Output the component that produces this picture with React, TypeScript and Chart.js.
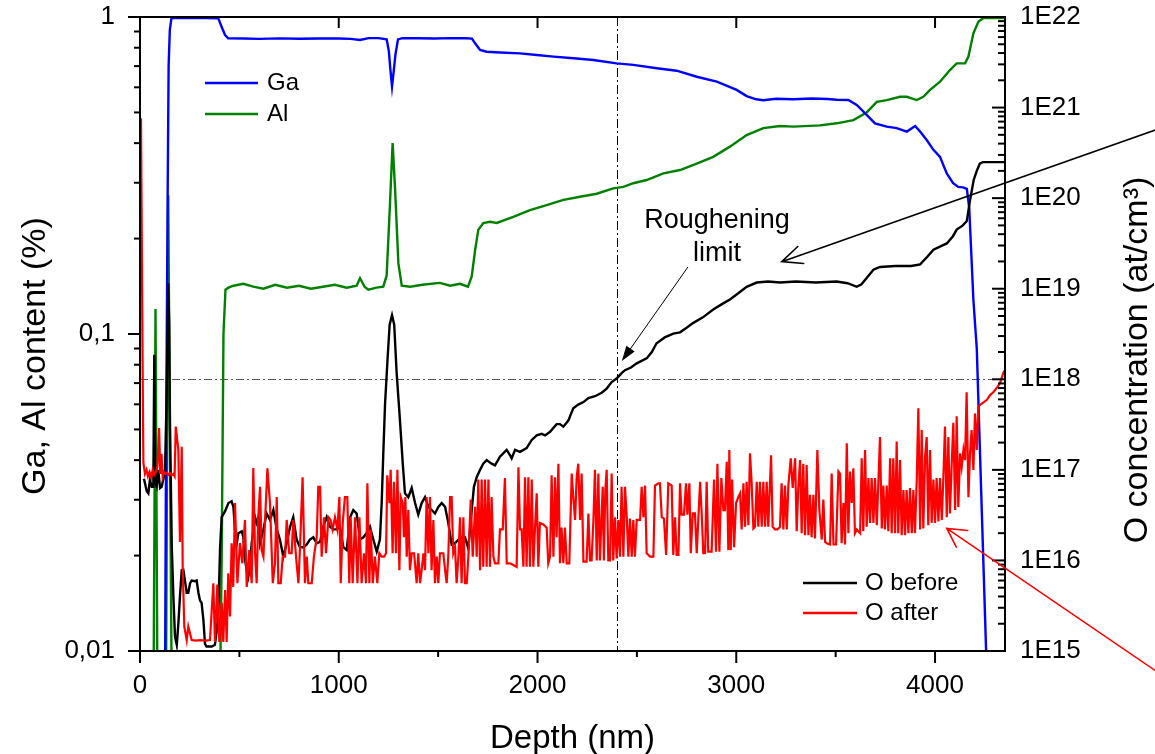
import React, { useEffect, useRef } from "react";
import { Chart, registerables } from "chart.js";

Chart.register(...registerables);

const FONT = "'Liberation Sans', Arial, Helvetica, sans-serif";

// ---------- axes / ticks ----------
const depthMin = 0;
const depthMax = 4352;
const depthTicksMajor = [0, 1000, 2000, 3000, 4000];
const depthTicksMinor = [500, 1500, 2500, 3500];
const contentTicksMajor = [0.01, 0.1, 1];
const contentTickLabels = ["0,01", "0,1", "1"];
const contentTicksMinor = [0.02, 0.03, 0.04, 0.05, 0.06, 0.07, 0.08, 0.09, 0.2, 0.3, 0.4, 0.5, 0.6, 0.7, 0.8, 0.9];
const concTicksMajor = [1e15, 1e16, 1e17, 1e18, 1e19, 1e20, 1e21, 1e22];
const concTickLabels = ["1E15", "1E16", "1E17", "1E18", "1E19", "1E20", "1E21", "1E22"];
const concTicksMinor = concTicksMajor.slice(0, -1).flatMap((d) => [2, 3, 4, 5, 6, 7, 8, 9].map((k) => k * d));

// reference lines
const roughDepth = 2400;
const roughConc = 1e18;

// ---------- series: [depth nm, value] ----------
const gaProfile: [number, number][] = [
  [124, 0.004], [130, 0.03], [134, 0.083], [139, 0.265], [144, 0.7], [150, 0.91], [158, 0.99], [170, 0.993],
  [250, 0.993], [330, 0.993], [394, 0.99], [411, 0.93], [428, 0.877], [444, 0.857], [520, 0.855], [600, 0.853],
  [700, 0.856], [800, 0.854], [900, 0.855], [1000, 0.855], [1060, 0.853], [1107, 0.846], [1150, 0.858],
  [1200, 0.858], [1241, 0.85], [1252, 0.78], [1260, 0.68], [1268, 0.603], [1276, 0.67], [1285, 0.76],
  [1298, 0.85], [1320, 0.858], [1400, 0.857], [1480, 0.855], [1560, 0.858], [1640, 0.857], [1670, 0.855],
  [1686, 0.826], [1711, 0.787], [1744, 0.777], [1811, 0.773], [1912, 0.768], [1996, 0.759], [2080, 0.75],
  [2181, 0.741], [2281, 0.732], [2398, 0.714], [2482, 0.706], [2600, 0.689], [2700, 0.677], [2801, 0.648],
  [2902, 0.625], [3002, 0.589], [3052, 0.563], [3100, 0.55], [3136, 0.546], [3200, 0.552], [3287, 0.55],
  [3380, 0.553], [3460, 0.551], [3505, 0.548], [3564, 0.547], [3606, 0.528], [3656, 0.491], [3698, 0.462],
  [3757, 0.451], [3807, 0.446], [3858, 0.435], [3900, 0.453], [3925, 0.435], [3958, 0.409], [3992, 0.381],
  [4025, 0.362], [4059, 0.321], [4091, 0.299], [4117, 0.291], [4141, 0.29], [4160, 0.287], [4172, 0.25],
  [4193, 0.128], [4210, 0.09], [4257, 0.01], [4270, 0.006],
];

const alProfile: [number, number][] = [
  [65, 0.003], [78, 0.12], [91, 0.003], [128, 0.003], [142, 0.274], [146, 0.12], [164, 0.003], [395, 0.003],
  [411, 0.02], [420, 0.1], [430, 0.138], [445, 0.14], [470, 0.142], [520, 0.144], [570, 0.141], [621, 0.139],
  [680, 0.143], [740, 0.14], [800, 0.142], [860, 0.139], [920, 0.141], [980, 0.143], [1040, 0.14],
  [1090, 0.142], [1107, 0.15], [1130, 0.141], [1149, 0.138], [1190, 0.14], [1224, 0.141], [1241, 0.153],
  [1258, 0.26], [1271, 0.4], [1283, 0.29], [1300, 0.167], [1317, 0.142], [1360, 0.141], [1420, 0.143],
  [1509, 0.145], [1560, 0.142], [1610, 0.144], [1650, 0.141], [1669, 0.152], [1686, 0.184], [1702, 0.213],
  [1727, 0.224], [1761, 0.226], [1795, 0.224], [1878, 0.234], [1962, 0.246], [2046, 0.255], [2130, 0.265],
  [2214, 0.271], [2298, 0.277], [2381, 0.288], [2432, 0.291], [2482, 0.299], [2549, 0.306], [2633, 0.321],
  [2717, 0.329], [2801, 0.345], [2884, 0.362], [2968, 0.39], [3052, 0.424], [3136, 0.446], [3220, 0.453],
  [3287, 0.451], [3421, 0.455], [3505, 0.462], [3589, 0.473], [3656, 0.5], [3707, 0.54], [3757, 0.547],
  [3824, 0.56], [3858, 0.56], [3908, 0.547], [3941, 0.56], [3975, 0.589], [4025, 0.625], [4075, 0.68],
  [4109, 0.714], [4151, 0.714], [4168, 0.75], [4193, 0.888], [4218, 0.966], [4243, 0.993], [4352, 0.993],
];

const oBeforeProfile: [number, number][] = [
  [20, 8e16], [25, 7.1e16], [34, 5.8e16], [42, 5.5e16], [50, 7.8e16], [59, 6.5e16], [67, 6.5e16], [72, 1.86e18],
  [77, 7.1e16], [84, 6.5e16], [92, 1e17], [101, 6.3e16], [109, 6.5e16], [117, 7.8e16], [126, 1e17], [134, 6.5e17],
  [142, 1.15e19], [147, 4e18], [151, 3e17], [160, 1.4e16], [168, 4e15], [176, 1.45e15], [185, 1.17e15],
  [193, 2e15], [201, 4e15], [210, 7.8e15], [218, 7.9e15], [226, 6e15], [235, 4.4e15], [243, 4.4e15],
  [252, 5.6e15], [260, 6e15], [277, 5.9e15], [285, 6e15], [294, 4.4e15], [302, 3.6e15], [310, 3.4e15],
  [319, 2.2e15], [327, 1.2e15], [335, 1.12e15], [361, 1.12e15], [377, 1.17e15], [386, 1.7e15], [394, 2.6e15],
  [403, 1.4e16], [411, 3e16], [428, 3.5e16], [445, 4.3e16], [461, 4.5e16], [470, 3.9e16], [478, 2.2e16],
  [487, 1.55e16], [495, 2e16], [512, 2.1e16], [520, 1.8e16], [529, 1e16], [537, 7.8e15], [545, 6.6e15],
  [554, 9.3e15], [562, 1.55e16], [571, 2.2e16], [579, 3e16], [587, 2.6e16], [596, 3e16], [604, 1.55e16],
  [621, 2.2e16], [637, 3.3e16], [654, 2.8e16], [671, 3.6e16], [688, 2.2e16], [704, 1.7e16], [721, 1.1e16],
  [738, 1.55e16], [755, 2.35e16], [771, 3e16], [788, 1.7e16], [805, 1.4e16], [822, 1.4e16], [839, 1.5e16],
  [855, 1.7e16], [872, 1.8e16], [889, 1.55e16], [906, 1.6e16], [922, 2.35e16], [939, 3e16], [956, 2.35e16],
  [973, 2.2e16], [990, 2.2e16], [1006, 2.35e16], [1023, 1.4e16], [1040, 1.3e16], [1057, 3e16], [1073, 3.6e16],
  [1090, 3.3e16], [1107, 1.7e16], [1124, 1.8e16], [1140, 2e16], [1157, 2.35e16], [1174, 1.7e16], [1191, 1.25e16],
  [1207, 1.7e16], [1216, 4.3e16], [1224, 1.5e17], [1233, 5.4e17], [1245, 1.6e18], [1256, 4e18], [1268, 5.1e18],
  [1279, 4e18], [1291, 1.2e18], [1308, 3.5e17], [1322, 1.17e17], [1333, 5.5e16], [1350, 5e16], [1367, 6.3e16],
  [1384, 4.3e16], [1400, 3.2e16], [1417, 4.3e16], [1434, 5e16], [1451, 3.9e16], [1468, 3.6e16], [1484, 3.3e16],
  [1501, 3.9e16], [1518, 4.3e16], [1535, 3.9e16], [1551, 2.6e16], [1568, 1.5e16], [1585, 1.55e16],
  [1602, 1.7e16], [1618, 1.8e16], [1635, 1.8e16], [1652, 1.35e16], [1669, 3.6e16], [1680, 6.5e16],
  [1694, 8.3e16], [1711, 1e17], [1727, 1.17e17], [1744, 1.28e17], [1769, 1.17e17], [1786, 1.12e17],
  [1811, 1.4e17], [1845, 1.66e17], [1862, 1.45e17], [1870, 1.34e17], [1887, 1.66e17], [1912, 1.58e17],
  [1945, 1.74e17], [1971, 2.14e17], [1996, 2.4e17], [2021, 2.5e17], [2038, 2.4e17], [2063, 2.63e17],
  [2096, 3.2e17], [2113, 3.2e17], [2130, 3e17], [2155, 3.5e17], [2180, 4.8e17], [2205, 5.25e17], [2231, 5.6e17],
  [2256, 6.2e17], [2289, 6.5e17], [2323, 7.1e17], [2348, 7.9e17], [2373, 9.3e17], [2398, 1.02e18],
  [2423, 1.17e18], [2440, 1.26e18], [2470, 1.35e18], [2499, 1.5e18], [2549, 1.7e18], [2575, 2e18],
  [2599, 2.5e18], [2640, 2.9e18], [2683, 3.2e18], [2717, 3.3e18], [2750, 3.7e18], [2784, 4.2e18],
  [2830, 4.8e18], [2884, 5.9e18], [2930, 6.8e18], [2968, 7.6e18], [3010, 8.9e18], [3052, 1.05e19],
  [3103, 1.17e19], [3160, 1.2e19], [3220, 1.17e19], [3300, 1.2e19], [3400, 1.17e19], [3505, 1.2e19],
  [3560, 1.15e19], [3606, 1.05e19], [3630, 1.12e19], [3660, 1.35e19], [3690, 1.62e19], [3723, 1.74e19],
  [3800, 1.78e19], [3880, 1.78e19], [3925, 1.86e19], [3960, 2.24e19], [3992, 2.7e19], [4030, 2.95e19],
  [4059, 3.16e19], [4090, 3.8e19], [4109, 4.5e19], [4140, 5e19], [4160, 5.6e19], [4176, 9.5e19],
  [4195, 1.6e20], [4210, 2e20], [4225, 2.4e20], [4240, 2.5e20], [4300, 2.5e20], [4352, 2.5e20],
];

const oAfterProfile: [number, number][] = [
  [5, 7.6e20], [13, 1.6e18], [17, 1.2e17], [25, 9e16], [33, 1e17], [40, 8.5e16], [48, 9.5e16], [56, 8.3e16],
  [64, 1e17], [72, 8.8e16], [80, 9.5e16], [88, 1.1e17], [96, 2.9e17], [102, 9e16], [108, 1.5e17], [114, 8.5e16],
  [120, 9.5e16], [128, 9e16], [136, 9.3e16], [144, 8.8e16], [152, 9.2e16], [160, 8.7e16], [168, 9e16],
  [174, 8.5e16], [180, 3e17], [193, 1.66e17], [201, 1.6e16], [210, 1.8e17], [215, 7.8e15], [223, 1.86e15],
  [235, 1.32e15], [243, 1.86e15], [260, 1.32e15], [280, 1.3e15], [302, 1.32e15], [330, 1.3e15], [352, 1.32e15],
  [369, 5.6e15], [377, 1.26e15], [389, 5.4e15], [399, 1.26e15], [411, 3.4e15], [419, 1.26e15], [428, 4.7e15],
  [436, 1.26e15], [444, 7.2e15], [453, 2.4e15], [461, 1.55e16], [469, 5.1e15], [478, 4.3e16], [490, 5.6e15],
  [503, 1.55e16], [515, 9.3e15], [528, 2.8e16], [537, 5.1e15], [550, 1.3e16], [562, 5.6e15], [570, 1.05e17],
  [579, 1.2e16], [587, 5.6e15], [595, 3e16],
  [604, 6.5e16], [612, 1.3e16], [621, 1.1e16], [641, 1.04e17], [654, 4.3e16], [668, 5.6e15], [679, 9.3e15],
  [688, 5e16], [696, 5.6e15], [708, 5.6e15], [718, 1.1e16], [730, 1.1e16], [738, 2.8e16], [751, 1.2e16],
  [763, 1.2e16], [771, 2.8e16], [785, 1.1e16], [797, 5.6e15], [805, 1.4e16], [818, 8.3e16], [830, 5.6e15],
  [839, 1.1e16], [847, 5.6e15], [864, 5.6e15], [875, 1.1e16], [889, 1.8e16], [897, 6.5e16], [906, 6.5e16],
  [914, 1.1e16], [926, 3e16], [936, 1.2e16], [948, 3e16], [959, 2.8e16], [969, 2.2e16], [981, 3e16],
  [993, 2.2e16], [1003, 5e16], [1010, 5.6e15], [1020, 2.6e16], [1031, 5e16], [1043, 5e16], [1053, 5.6e15],
  [1060, 3e16], [1070, 5.6e15], [1082, 3e16], [1094, 5.6e15], [1104, 3e16], [1115, 5.6e15], [1127, 1.2e16],
  [1137, 5.6e15], [1144, 7.1e16], [1154, 5.6e15], [1161, 2.2e16], [1171, 5.6e15], [1182, 1.1e16],
  [1194, 5.6e15], [1204, 1.2e16], [1216, 1.1e16], [1228, 1.1e16], [1238, 1.2e16], [1244, 8.7e16],
  [1255, 4.3e16], [1261, 1e17], [1271, 1.2e16], [1278, 7.4e16], [1288, 1.2e16], [1295, 1e17], [1305, 7.8e15],
  [1312, 5e16], [1322, 4.3e16], [1328, 1.8e16], [1335, 5e16], [1342, 1.1e16], [1350, 3.6e16], [1358, 7.8e15],
  [1367, 1.2e16], [1379, 1.2e16], [1392, 5.6e15], [1400, 1.2e16], [1409, 5.6e15], [1417, 7.8e15],
  [1426, 1.2e16], [1434, 7.8e15], [1442, 5e16], [1451, 1.2e16], [1459, 5e16], [1467, 7.8e15], [1476, 2.8e16],
  [1484, 5.6e15], [1493, 1.1e16], [1501, 5.6e15], [1509, 1.2e16], [1526, 1.2e16], [1535, 7.8e15],
  [1543, 5.6e15], [1551, 1.1e16],
  [1560, 5e16], [1568, 5e16], [1576, 1.2e16], [1585, 1.4e16], [1593, 5.6e15], [1602, 1.1e16], [1610, 3e16],
  [1618, 5.6e15], [1627, 3e16], [1635, 5.6e15], [1644, 5.6e15], [1652, 1.1e16], [1664, 4.7e16], [1674, 1.1e16],
  [1686, 3.9e16], [1694, 1.1e16], [1702, 7.8e16], [1711, 7.8e15], [1719, 7.8e16], [1727, 8.5e15],
  [1736, 7.8e16], [1744, 8.5e15], [1753, 7.8e16], [1761, 8.5e15], [1769, 5e16], [1778, 1.1e16], [1786, 9.3e15],
  [1803, 9.3e15], [1811, 2.2e16], [1825, 2.2e16], [1836, 8.1e16], [1845, 9.3e15], [1862, 9.3e15],
  [1878, 8.9e15], [1895, 8.5e15], [1904, 1.07e17], [1912, 2.2e16], [1920, 2.2e16], [1929, 8.5e15],
  [1937, 8.3e16], [1945, 8.5e15], [1954, 8.3e16], [1962, 8.5e15], [1971, 7.8e16], [1979, 8.5e15],
  [1987, 2.2e16], [1996, 5.5e16], [2004, 8.5e15], [2012, 2.6e16], [2029, 2.5e16], [2046, 2.3e16],
  [2054, 9.3e15], [2063, 1.1e16], [2071, 8.7e16], [2080, 1.1e16], [2088, 8.3e16], [2096, 1.8e16],
  [2105, 1.17e17], [2113, 9.3e15], [2121, 2.3e16], [2130, 9.3e15], [2138, 2.3e16], [2147, 9.3e15],
  [2160, 9.3e15], [2172, 9.1e16], [2180, 5e16], [2189, 2.8e16], [2197, 8.3e16], [2205, 1.17e17],
  [2214, 2.8e16], [2222, 9.1e16], [2231, 9.7e15], [2247, 9.7e15], [2256, 3.3e16], [2264, 1e16], [2272, 1e16],
  [2281, 2.7e16], [2289, 1e17], [2298, 1e16], [2306, 9.1e16], [2314, 1e16], [2328, 6.5e16], [2334, 1e16],
  [2341, 6e16], [2348, 1e17], [2356, 1e16], [2365, 1e16], [2373, 9.1e16], [2381, 1e16], [2390, 3e16],
  [2398, 1.05e16], [2407, 2.8e16], [2415, 1.1e16], [2423, 6.5e16], [2432, 1.1e16], [2440, 6.5e16],
  [2449, 3e16], [2457, 1.1e16], [2465, 2.9e16], [2474, 1.1e16], [2482, 2.8e16], [2490, 1.1e16], [2499, 2.8e16],
  [2516, 2.8e16], [2524, 6.5e16], [2533, 3e16], [2541, 6.7e16], [2549, 1.2e16], [2558, 1.15e16],
  [2566, 1.1e16], [2583, 1.1e16], [2591, 6.7e16], [2608, 7.1e16], [2616, 7.1e16], [2625, 3e16],
  [2636, 2.9e16], [2647, 1.15e16], [2658, 7.1e16], [2675, 6.7e16], [2683, 1.15e16], [2692, 3e16],
  [2700, 1.15e16], [2709, 1.15e16], [2717, 7.1e16], [2725, 3.2e16], [2737, 3.2e16], [2747, 7.1e16],
  [2754, 3.2e16], [2764, 7.1e16], [2771, 1.2e16], [2781, 3.3e16], [2792, 3.3e16], [2801, 1.2e16],
  [2818, 7.4e16], [2826, 3.3e16], [2834, 1.2e16], [2843, 1.2e16], [2851, 7.4e16], [2859, 1.25e16],
  [2876, 1.25e16], [2888, 7.8e16], [2898, 1.25e16], [2905, 1.17e17], [2915, 1.25e16], [2925, 8.1e16],
  [2935, 3.6e16], [2943, 3.6e16], [2952, 1.23e17], [2960, 1.3e16], [2965, 1.66e17], [2972, 1.3e16],
  [2979, 7.8e16], [2989, 1.4e16], [2999, 4.3e16], [3010, 5e16], [3019, 5.5e16], [3027, 2.2e16],
  [3036, 7.1e16], [3044, 2.35e16], [3052, 7.4e16], [3061, 2.45e16], [3069, 1.52e17], [3077, 7.4e16],
  [3086, 2.25e16], [3094, 2.35e16], [3103, 7.4e16], [3111, 2.35e16], [3119, 7.4e16], [3128, 2.35e16],
  [3136, 7.4e16], [3145, 2.35e16], [3153, 7.4e16], [3161, 2.35e16], [3175, 1.45e17], [3183, 2.35e16],
  [3195, 2.2e16], [3207, 2.2e16], [3220, 2.35e16], [3228, 7.1e16], [3237, 2.2e16], [3245, 6.7e16],
  [3254, 2.2e16], [3262, 6.7e16], [3274, 1.34e17], [3284, 6.3e16], [3296, 1.34e17], [3304, 2.1e16],
  [3312, 6.3e16], [3321, 1.28e17], [3329, 2e16], [3337, 1.17e17], [3346, 1.9e16], [3354, 1.13e17],
  [3363, 1.9e16], [3371, 5.3e16], [3379, 1.8e16], [3388, 5.3e16], [3396, 1.75e16], [3408, 1.66e17],
  [3418, 3.6e16],
  [3430, 1.7e16], [3438, 4.7e16], [3447, 1.6e16], [3455, 1.55e16], [3472, 1.5e16], [3480, 9.1e16],
  [3489, 1.5e16], [3502, 1.5e16], [3514, 9.6e16], [3522, 9.1e16], [3530, 1.55e16], [3539, 4.3e16],
  [3547, 1.5e16], [3556, 1.96e17], [3564, 2e16], [3572, 9.6e16], [3581, 4.3e16], [3589, 1.04e17],
  [3597, 2e16], [3606, 2.2e16], [3623, 2e16], [3631, 1.34e17], [3639, 2.1e16], [3648, 1.66e17],
  [3656, 2.35e16], [3665, 8.1e16], [3673, 2.6e16], [3681, 8.1e16], [3690, 2.6e16], [3698, 8.1e16],
  [3707, 2.45e16], [3715, 7.4e16], [3723, 2.3e17], [3732, 2.25e16], [3740, 6.7e16], [3748, 2.2e16],
  [3757, 6.7e16], [3765, 2.1e16], [3774, 1.34e17], [3782, 2e16], [3790, 1.34e17], [3799, 2e16],
  [3807, 2.05e17], [3815, 2e16], [3824, 1.28e17], [3832, 1.9e16], [3841, 6e16], [3849, 1.9e16],
  [3857, 6e16], [3866, 2e16], [3874, 6.3e16], [3883, 2e16], [3891, 6e16], [3899, 2e16], [3908, 7.8e16],
  [3916, 4.8e17], [3925, 2.2e16], [3933, 2.75e17], [3941, 2.25e16], [3950, 1.4e17], [3958, 2.3e17],
  [3966, 2.45e16], [3975, 1.66e17], [3983, 2.6e16], [3992, 7.8e16], [4000, 2.6e16], [4008, 8.1e16],
  [4017, 2.7e16], [4025, 8.1e16], [4034, 2.8e16], [4042, 8.3e16], [4050, 3e17], [4059, 3e16],
  [4067, 2.3e17], [4075, 3.3e16], [4084, 1.17e17], [4092, 3.3e17], [4101, 3.6e16], [4109, 3.9e17],
  [4117, 3.9e16], [4126, 1.52e17], [4134, 1.07e17], [4143, 1.66e17], [4151, 1.28e17], [4159, 7.2e17],
  [4168, 5e16], [4176, 1.52e17], [4184, 2.75e17], [4193, 1e17], [4201, 4.2e17], [4210, 1.66e17],
  [4218, 5e17], [4235, 5.4e17], [4260, 5.9e17], [4277, 6.7e17], [4293, 7.2e17], [4310, 8e17],
  [4327, 9.1e17], [4344, 1.18e18], [4352, 1.26e18],
];

// ---------- texts ----------
const xTitle = "Depth (nm)";
const yTitle = "Ga, Al content (%)";
const y2Title = "O concentration (at/cm\u00B3)";
const legendTop = [
  { label: "Ga", color: "#0000ff" },
  { label: "Al", color: "#008000" },
];
const legendBottom = [
  { label: "O before", color: "#000000" },
  { label: "O after", color: "#ff0000" },
];
const noteLines = ["Roughening", "limit"];

// annotation anchors in data coordinates (depth, O concentration)
const noteAnchor = { depth: 2903, conc: [4.68e19, 2.02e19] };
const pointerArrow = { tail: [2757, 1.74e19], tip: [2424, 1.59e18] };
const beforeArrow = { tail: [5132, 5.9e20], tip: [3229, 1.99e19] };
const afterArrow = { tail: [5132, 5.6e14], tip: [4059, 2.26e16] };

const toPts = (rows: [number, number][]) => rows.map(([d, v]) => ({ x: d, y: v }));

function openArrow(ctx: CanvasRenderingContext2D, tx: number, ty: number, hx: number, hy: number, color: string, lw: number, len: number, half: number) {
  ctx.save();
  ctx.strokeStyle = color;
  ctx.lineWidth = lw;
  ctx.lineCap = "round";
  ctx.beginPath();
  ctx.moveTo(tx, ty);
  ctx.lineTo(hx, hy);
  const ang = Math.atan2(ty - hy, tx - hx);
  ctx.moveTo(hx + len * Math.cos(ang + half), hy + len * Math.sin(ang + half));
  ctx.lineTo(hx, hy);
  ctx.lineTo(hx + len * Math.cos(ang - half), hy + len * Math.sin(ang - half));
  ctx.stroke();
  ctx.restore();
}

const decorPlugin = {
  id: "decor",
  beforeDatasetsDraw(chart: any) {
    const { ctx, chartArea: a, scales } = chart;
    ctx.save();
    ctx.lineWidth = 1;
    ctx.strokeStyle = "#555555";
    ctx.setLineDash([8, 3, 2, 3]);
    const yy = Math.round(scales.y2.getPixelForValue(roughConc)) + 0.5;
    ctx.beginPath();
    ctx.moveTo(a.left, yy);
    ctx.lineTo(a.right, yy);
    ctx.stroke();
    ctx.strokeStyle = "#000000";
    ctx.setLineDash([9, 3, 2, 3]);
    const xx = Math.round(scales.x.getPixelForValue(roughDepth)) + 0.5;
    ctx.beginPath();
    ctx.moveTo(xx, a.top);
    ctx.lineTo(xx, a.bottom);
    ctx.stroke();
    ctx.restore();
  },
  afterDatasetsDraw(chart: any) {
    const { ctx, chartArea: a, scales } = chart;
    const sx = scales.x, sy = scales.y, sy2 = scales.y2;
    ctx.save();
    ctx.strokeStyle = "#000";
    ctx.fillStyle = "#000";
    // frame
    ctx.lineWidth = 2;
    ctx.strokeRect(a.left, a.top, a.right - a.left, a.bottom - a.top);
    const seg = (x1: number, y1: number, x2: number, y2: number) => {
      ctx.beginPath();
      ctx.moveTo(x1, y1);
      ctx.lineTo(x2, y2);
      ctx.stroke();
    };
    // bottom ticks (outward), top ticks (inward)
    depthTicksMajor.forEach((v) => {
      const p = sx.getPixelForValue(v);
      seg(p, a.bottom, p, a.bottom + 12);
      if (v > 0) seg(p, a.top, p, a.top + 11);
    });
    depthTicksMinor.forEach((v) => {
      const p = sx.getPixelForValue(v);
      seg(p, a.bottom, p, a.bottom + 6);
    });
    // left ticks (outward)
    contentTicksMajor.forEach((v) => {
      const p = sy.getPixelForValue(v);
      seg(a.left - 12, p, a.left, p);
    });
    contentTicksMinor.forEach((v) => {
      const p = sy.getPixelForValue(v);
      seg(a.left - 6, p, a.left, p);
    });
    // right ticks (inward)
    concTicksMajor.forEach((v) => {
      const p = sy2.getPixelForValue(v);
      seg(a.right - 13, p, a.right, p);
    });
    concTicksMinor.forEach((v) => {
      const p = sy2.getPixelForValue(v);
      seg(a.right - 7, p, a.right, p);
    });

    // axis titles
    ctx.font = `33px ${FONT}`;
    ctx.textAlign = "center";
    ctx.textBaseline = "alphabetic";
    ctx.fillText(xTitle, (a.left + a.right) / 2, 748);
    ctx.font = `34px ${FONT}`;
    ctx.save();
    ctx.translate(45, 356);
    ctx.rotate(-Math.PI / 2);
    ctx.fillText(yTitle, 0, 0);
    ctx.restore();
    ctx.save();
    ctx.translate(1147, 360);
    ctx.rotate(-Math.PI / 2);
    ctx.fillText(y2Title, 0, 0);
    ctx.restore();

    // legends
    ctx.font = `24px ${FONT}`;
    ctx.textAlign = "left";
    ctx.textBaseline = "middle";
    ctx.lineWidth = 2.4;
    legendTop.forEach((it, i) => {
      const yy = 83 + i * 31;
      ctx.strokeStyle = it.color;
      seg(205, yy, 258, yy);
      ctx.fillStyle = "#000";
      ctx.fillText(it.label, 267, yy);
    });
    legendBottom.forEach((it, i) => {
      const yy = 583 + i * 30;
      ctx.strokeStyle = it.color;
      seg(803, yy, 857, yy);
      ctx.fillStyle = "#000";
      ctx.fillText(it.label, 865, yy);
    });

    // annotation text
    ctx.font = `27px ${FONT}`;
    ctx.textAlign = "center";
    ctx.textBaseline = "alphabetic";
    ctx.fillStyle = "#000";
    const nx = sx.getPixelForValue(noteAnchor.depth);
    noteLines.forEach((t, i) => ctx.fillText(t, nx, sy2.getPixelForValue(noteAnchor.conc[i])));

    // pointer arrow with filled head
    const ptx = sx.getPixelForValue(pointerArrow.tail[0]);
    const pty = sy2.getPixelForValue(pointerArrow.tail[1]);
    const phx = sx.getPixelForValue(pointerArrow.tip[0]);
    const phy = sy2.getPixelForValue(pointerArrow.tip[1]);
    const ang = Math.atan2(pty - phy, ptx - phx);
    const hl = 16, hw = 0.32;
    ctx.strokeStyle = "#000";
    ctx.lineWidth = 1;
    seg(ptx, pty, phx + hl * 0.8 * Math.cos(ang), phy + hl * 0.8 * Math.sin(ang));
    ctx.beginPath();
    ctx.moveTo(phx, phy);
    ctx.lineTo(phx + hl * Math.cos(ang + hw), phy + hl * Math.sin(ang + hw));
    ctx.lineTo(phx + hl * Math.cos(ang - hw), phy + hl * Math.sin(ang - hw));
    ctx.closePath();
    ctx.fill();

    // long open arrows
    openArrow(ctx, sx.getPixelForValue(beforeArrow.tail[0]), sy2.getPixelForValue(beforeArrow.tail[1]),
      sx.getPixelForValue(beforeArrow.tip[0]), sy2.getPixelForValue(beforeArrow.tip[1]), "#000", 1.6, 22, 0.42);
    openArrow(ctx, sx.getPixelForValue(afterArrow.tail[0]), sy2.getPixelForValue(afterArrow.tail[1]),
      sx.getPixelForValue(afterArrow.tip[0]), sy2.getPixelForValue(afterArrow.tip[1]), "#ff0000", 1.6, 21, 0.5);
    ctx.restore();
  },
};

const tickFont = { family: FONT, size: 26 };

export default function App() {
  const ref = useRef<HTMLCanvasElement | null>(null);
  useEffect(() => {
    if (!ref.current) return;
    const common = {
      borderWidth: 2.4,
      pointRadius: 0,
      pointHoverRadius: 0,
      tension: 0,
      fill: false,
      clip: { left: 2, top: 3, right: 2, bottom: 0 },
    };
    const chart = new Chart(ref.current, {
      type: "line",
      data: {
        datasets: [
          { ...common, label: "Ga", data: toPts(gaProfile), borderColor: "#0000ff", yAxisID: "y", order: 2 },
          { ...common, label: "Al", data: toPts(alProfile), borderColor: "#008000", yAxisID: "y", order: 3 },
          { ...common, label: "O before", data: toPts(oBeforeProfile), borderColor: "#000000", yAxisID: "y2", order: 1 },
          { ...common, label: "O after", data: toPts(oAfterProfile), borderColor: "#ff0000", yAxisID: "y2", order: 0, borderWidth: 2.2 },
        ] as any,
      },
      options: {
        responsive: false,
        maintainAspectRatio: false,
        devicePixelRatio: 1,
        animation: false,
        events: [],
        layout: { padding: { top: 17, left: 0, right: 0, bottom: 0 } },
        plugins: { legend: { display: false }, tooltip: { enabled: false }, title: { display: false } },
        scales: {
          x: {
            type: "linear",
            position: "bottom",
            min: depthMin,
            max: depthMax,
            grid: { display: false, drawTicks: false },
            border: { display: false },
            ticks: { font: tickFont, color: "#000", padding: 19, autoSkip: false, maxRotation: 0, minRotation: 0,
              callback: (v: any) => String(v) },
            afterBuildTicks: (s: any) => { s.ticks = depthTicksMajor.map((value) => ({ value })); },
            afterFit: (s: any) => { s.height = 103; s.paddingLeft = 0; s.paddingRight = 0; },
          },
          y: {
            type: "logarithmic",
            position: "left",
            min: 0.01,
            max: 1,
            grid: { display: false, drawTicks: false },
            border: { display: false },
            ticks: { font: tickFont, color: "#000", padding: 25, autoSkip: false,
              callback: (v: any) => { const i = contentTicksMajor.indexOf(Number(v)); return i >= 0 ? contentTickLabels[i] : ""; } },
            afterBuildTicks: (s: any) => { s.ticks = contentTicksMajor.map((value) => ({ value })); },
            afterFit: (s: any) => { s.width = 140; s.paddingTop = 0; s.paddingBottom = 0; },
          },
          y2: {
            type: "logarithmic",
            position: "right",
            min: 1e15,
            max: 1e22,
            grid: { display: false, drawTicks: false },
            border: { display: false },
            ticks: { font: tickFont, color: "#000", padding: 15, autoSkip: false,
              callback: (v: any) => { const i = concTicksMajor.indexOf(Number(v)); return i >= 0 ? concTickLabels[i] : ""; } },
            afterBuildTicks: (s: any) => { s.ticks = concTicksMajor.map((value) => ({ value })); },
            afterFit: (s: any) => { s.width = 150; s.paddingTop = 0; s.paddingBottom = 0; },
          },
        },
      } as any,
      plugins: [decorPlugin],
    });
    return () => chart.destroy();
  }, []);
  return (
    <div style={{ position: "fixed", left: 0, top: 0, width: 1155, height: 754, background: "#fff" }}>
      <canvas ref={ref} width={1155} height={754} style={{ display: "block", width: 1155, height: 754 }} />
    </div>
  );
}
